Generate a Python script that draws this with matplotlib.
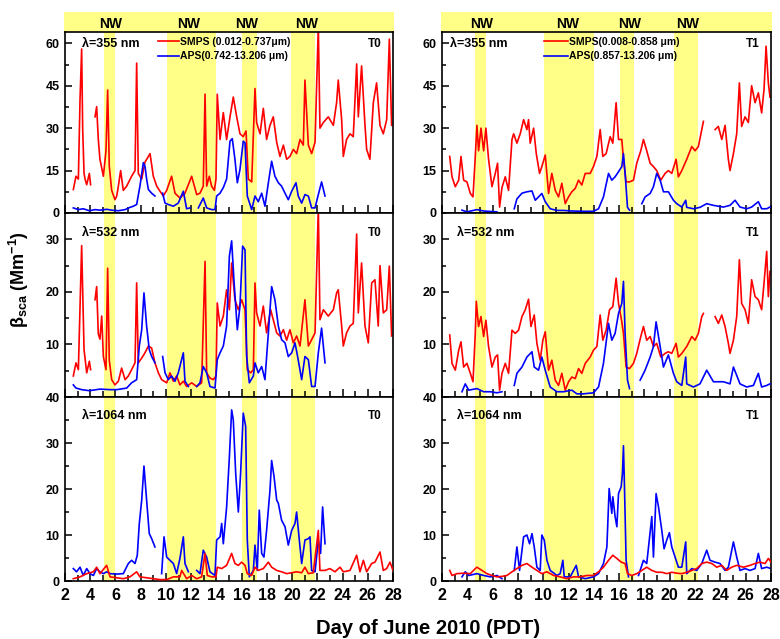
import numpy as np
import matplotlib
matplotlib.use('Agg')
import matplotlib.pyplot as plt
from matplotlib.ticker import MultipleLocator

plt.rcParams['font.family'] = ['Liberation Sans', 'DejaVu Sans']
plt.rcParams['font.weight'] = 'bold'
plt.rcParams['mathtext.fontset'] = 'custom'
plt.rcParams['mathtext.rm'] = 'Liberation Sans:bold'
plt.rcParams['mathtext.bf'] = 'Liberation Sans:bold'

nan = np.nan

####################################################################################################
# data: (day of June, beta_sca in Mm-1)
####################################################################################################
# --- T0 site ---
t0_smps_355 = [(2.66, 8.3), (2.87, 13), (3.06, 12), (3.19, 40), (3.32, 58), (3.40, 30), (3.51, 14), (3.59, 12),
               (3.72, 10), (3.93, 14), (4.03, 10), (4.2, nan), (4.38, 34), (4.51, 37.6), (4.64, 26), (4.77, 19),
               (5.04, 13), (5.25, 22), (5.38, 43.5), (5.51, 16.6), (5.70, 8), (5.96, 4.7), (6.10, 6), (6.23, 9.5),
               (6.41, 15), (6.62, 8), (6.89, 9.5), (7.28, 13), (7.55, 15), (7.68, 53), (7.81, 14), (8.08, 12),
               (8.34, 18), (8.61, 20), (8.74, 21), (9.00, 13), (9.27, 9.5), (9.53, 7.7), (9.79, 6), (10.06, 8),
               (10.45, 13), (10.72, 7), (11.11, 5.3), (11.51, 7), (12.04, 13), (12.44, 6.5), (12.70, 7),
               (12.96, 9.5), (13.10, 42), (13.23, 9.5), (13.44, 13), (13.62, 9.5), (13.84, 8), (13.97, 12),
               (14.07, 42), (14.29, 26), (14.55, 35.5), (14.81, 26), (15.08, 34), (15.34, 41), (15.61, 34),
               (15.87, 28), (16.13, 27), (16.35, 29), (16.53, 12), (16.80, 11), (17.06, 44), (17.19, 32),
               (17.46, 28), (17.72, 37), (17.98, 26), (18.25, 31), (18.51, 34), (18.78, 25), (19.04, 20),
               (19.31, 24), (19.57, 19), (19.83, 20), (20.10, 22.5), (20.36, 21), (20.63, 26), (20.89, 24),
               (21.02, 47), (21.29, 24), (21.55, 21), (21.82, 25), (22.08, 66), (22.21, 30), (22.48, 32),
               (22.87, 34), (23.27, 31), (23.53, 39), (23.66, 47), (23.93, 33), (24.06, 20), (24.32, 26),
               (24.59, 28), (24.85, 27), (25.12, 52.7), (25.25, 34), (25.51, 52), (25.78, 31), (25.91, 22.5),
               (26.17, 19), (26.44, 39), (26.70, 46), (26.97, 31), (27.23, 28), (27.50, 33), (27.71, 61.5),
               (27.89, 31)]
t0_aps_355 = [(2.66, 1.8), (3.06, 1.2), (3.45, 1.5), (3.93, 0.8), (4.38, 1.2), (4.77, 1.0), (5.30, 1.3),
              (5.70, 1.0), (6.23, 0.8), (6.76, 1.2), (7.15, 2.0), (7.42, 2.4), (7.68, 3), (7.94, 9.5),
              (8.21, 17.8), (8.34, 16.5), (8.47, 12), (8.61, 8.3), (8.87, 7), (9.13, 6), (9.27, nan), (9.74, 7),
              (9.93, 3.5), (10.19, 3), (10.59, 2.4), (10.98, 3.5), (11.38, 7.7), (11.64, 1.5), (11.91, 1.8),
              (12.1, nan), (12.57, 1.8), (12.96, 5.3), (13.23, 1.8), (13.62, 1.2), (13.89, 1.2), (14.02, 6),
              (14.29, 7), (14.55, 9), (14.81, 12), (15.08, 25.4), (15.26, 26.3), (15.47, 19), (15.66, 10.7),
              (15.87, 15.4), (16.13, 25.4), (16.27, 24.8), (16.45, 6), (16.80, 1.2), (17.06, 6), (17.32, 4),
              (17.59, 7), (17.85, 2.4), (18.12, 10.7), (18.38, 18.3), (18.64, 13), (18.91, 10.7), (19.17, 9.5),
              (19.44, 7), (19.70, 4.7), (19.97, 7.7), (20.31, 10.7), (20.49, 6), (20.76, 3.5), (21.02, 6.5),
              (21.29, 6), (21.55, 1.8), (21.82, 1.8), (22.08, 6.5), (22.34, 11), (22.61, 6)]
t0_smps_532 = [(2.66, 4), (2.87, 6.5), (3.06, 5.2), (3.32, 28.8), (3.51, 9), (3.72, 4.6), (3.93, 6.8), (4.03, 5.2),
               (4.2, nan), (4.38, 18.5), (4.51, 21), (4.64, 12), (4.77, 11), (4.91, 15.4), (5.04, 7.7), (5.25, 5.2),
               (5.38, 24.5), (5.51, 7), (5.70, 3.3), (5.96, 2.3), (6.23, 3), (6.49, 5.5), (6.76, 3.3), (7.02, 4),
               (7.28, 5.2), (7.55, 6.5), (7.68, 21.7), (7.81, 6.5), (8.08, 7.4), (8.34, 8.4), (8.61, 9.7),
               (8.87, 9.3), (9.13, 6.5), (9.40, 4.6), (9.66, 3.3), (10.06, 2.7), (10.32, 4.6), (10.59, 3),
               (10.85, 4), (11.11, 2.3), (11.38, 3), (11.64, 2), (12.04, 2.7), (12.44, 2), (12.83, 2.7),
               (13.10, 25.8), (13.23, 4.6), (13.49, 3.6), (13.76, 3.3), (13.97, 4), (14.07, 17.9), (14.29, 13.5),
               (14.55, 15.4), (14.81, 20.4), (15.03, 16.6), (15.21, 25.5), (15.47, 18.5), (15.74, 16.6),
               (16.00, 18.5), (16.27, 16.6), (16.45, 5.2), (16.72, 4.6), (16.93, 5.2), (17.06, 21.7), (17.19, 16),
               (17.46, 13.5), (17.72, 17.3), (17.98, 12.2), (18.30, 16.6), (18.51, 14.7), (18.78, 12.2),
               (19.04, 11.6), (19.31, 12.8), (19.57, 10.8), (19.83, 12.8), (20.10, 10.3), (20.36, 11.6),
               (20.63, 9.7), (21.02, 18.5), (21.29, 9.7), (21.55, 10.9), (21.82, 12.2), (22.08, 36), (22.21, 14.7),
               (22.48, 16.6), (22.87, 15.4), (23.27, 16.6), (23.53, 19.8), (23.66, 20.4), (23.93, 13.5),
               (24.06, 9.7), (24.32, 12.2), (24.59, 13.5), (24.85, 14), (25.12, 31), (25.25, 16), (25.51, 25.5),
               (25.78, 13.5), (26.04, 10.3), (26.31, 21.7), (26.57, 22.3), (26.83, 13.5), (26.97, 25), (27.23, 16),
               (27.50, 16.6), (27.71, 24.9), (27.89, 11.6)]
t0_aps_532 = [(2.66, 2.3), (2.87, 1.7), (3.32, 1.4), (3.93, 1.2), (4.77, 1.5), (5.57, 1.4), (6.10, 1.4), (6.89, 1.7),
              (7.28, 2.7), (7.68, 3.3), (7.89, 9.7), (8.08, 12.8), (8.26, 19.8), (8.47, 13.5), (8.68, 9),
              (8.87, 7.7), (9.13, 6.5), (9.27, nan), (9.74, 7.7), (9.93, 4.6), (10.19, 3.3), (10.45, 4), (10.72, 3),
              (10.98, 4.6), (11.38, 8.4), (11.51, 3), (11.78, 2), (12.1, nan), (12.44, 2), (12.70, 2.7),
              (12.96, 5.8), (13.23, 4.6), (13.49, 2), (13.89, 1.7), (14.07, 7.1), (14.29, 8.4), (14.55, 9.7),
              (14.81, 13.5), (15.03, 26.8), (15.21, 29.7), (15.39, 22.3), (15.66, 12.8), (15.87, 17.3),
              (16.08, 28.7), (16.27, 28), (16.40, 7.7), (16.61, 2.7), (16.93, 4), (17.06, 6.5), (17.32, 4.6),
              (17.59, 5.8), (17.85, 3.3), (18.12, 12.2), (18.38, 21), (18.64, 18.5), (18.91, 13.5), (19.17, 10.9),
              (19.44, 10.3), (19.70, 7.7), (19.97, 8.4), (20.23, 10.3), (20.44, 7.7), (20.76, 3.3), (21.02, 7.7),
              (21.29, 7.1), (21.55, 2), (21.82, 2), (22.08, 8.4), (22.34, 13.1), (22.61, 6.5)]
t0_smps_1064 = [(2.66, 0.5), (3.19, 0.9), (3.72, 1.6), (4.25, 2), (4.51, 3), (4.77, 1.6), (5.30, 3.4), (5.57, 0.9),
                (6.10, 0.7), (6.62, 0.5), (7.15, 0.9), (7.68, 2), (7.94, 0.9), (8.47, 0.7), (9.00, 0.5), (9.53, 0.3),
                (10.06, 0.3), (10.59, 0.9), (11.11, 0.9), (11.25, 2.3), (11.64, 0.5), (12.04, 1.2), (12.44, 0.5),
                (12.83, 0.9), (13.10, 6), (13.28, 1.2), (13.62, 0.9), (13.97, 0.9), (14.07, 3), (14.42, 2.7),
                (14.81, 3.4), (15.21, 6), (15.47, 3.8), (15.74, 3.4), (16.00, 4.1), (16.27, 3.4), (16.45, 1.6),
                (16.80, 1.2), (17.06, 3), (17.32, 2.3), (17.72, 2.7), (18.12, 4.1), (18.38, 3), (18.78, 2.3),
                (19.17, 2), (19.57, 1.6), (19.97, 1.8), (20.36, 2), (20.76, 1.8), (21.02, 3), (21.29, 1.6),
                (21.68, 1.8), (22.08, 11), (22.21, 2.3), (22.61, 2.3), (23.00, 2.7), (23.40, 2), (23.80, 3),
                (24.06, 2), (24.59, 2.3), (25.12, 5.6), (25.38, 2), (25.65, 4.5), (25.91, 2), (26.31, 3.8),
                (26.57, 4.1), (26.97, 6.3), (27.23, 2.3), (27.50, 2.7), (27.76, 4.1), (28.0, 2.3)]
t0_aps_1064 = [(2.66, 2.7), (2.92, 2), (3.19, 3), (3.45, 1.2), (3.72, 2.7), (3.98, 1.6), (4.25, 1.2), (4.51, 2.7),
               (4.77, 2), (5.04, 1.6), (5.30, 2), (5.57, 1.6), (6.10, 1.5), (6.62, 1.6), (7.02, 3.8), (7.28, 4.5),
               (7.55, 3.8), (7.73, 5.6), (7.89, 12.5), (8.08, 17.6), (8.26, 25), (8.47, 17.6), (8.68, 10.3),
               (8.87, 9.2), (9.13, 7.4), (9.3, nan), (9.66, 1.6), (9.85, 9.6), (10.06, 5.2), (10.32, 4.5),
               (10.59, 3.8), (10.85, 1.6), (11.11, 4.9), (11.38, 9.6), (11.51, 3.8), (11.78, 2), (12.1, nan),
               (12.44, 2.3), (12.70, 1.6), (12.96, 6.7), (13.23, 5.2), (13.49, 2), (13.89, 1.2), (14.02, 8.9),
               (14.29, 9.6), (14.42, 12.5), (14.55, 8.1), (14.81, 16), (15.03, 27), (15.21, 37.2), (15.34, 35),
               (15.53, 23.4), (15.74, 15), (15.92, 23.4), (16.13, 36.5), (16.32, 33.6), (16.45, 8.9), (16.61, 0.9),
               (16.93, 2.3), (17.06, 7.8), (17.24, 2.3), (17.40, 15.4), (17.59, 6), (17.77, 5.2), (17.98, 11),
               (18.25, 19.8), (18.38, 26.2), (18.57, 22.7), (18.78, 17.6), (18.91, 16.9), (19.17, 13.2),
               (19.44, 11.8), (19.70, 7.8), (19.97, 11), (20.23, 12.5), (20.36, 15), (20.55, 9.6), (20.76, 3.8),
               (21.02, 8.9), (21.29, 9.2), (21.42, 9.6), (21.55, 2.3), (21.82, 2), (22.08, 8.9), (22.26, 6),
               (22.42, 16.1), (22.61, 8.1)]

# --- T1 site ---
t1_smps_355 = [(2.61, 20), (2.79, 12.8), (3.05, 9.3), (3.32, 11.6), (3.50, 20), (3.71, 11.6), (3.97, 11), (4.24, 6.9),
               (4.45, 5.7), (4.63, 20), (4.76, 31), (4.89, 22), (5.08, 30), (5.29, 22), (5.47, 30), (5.68, 19),
               (5.95, 9.3), (6.21, 14), (6.39, 17.6), (6.55, 2.1), (6.74, 9), (7.00, 12.8), (7.26, 8), (7.53, 26),
               (7.66, 28), (7.92, 24.7), (8.18, 28), (8.45, 33), (8.71, 29.5), (8.84, 33), (8.97, 24.7), (9.24, 30),
               (9.45, 21), (9.71, 14), (9.89, 16.4), (10.16, 20.5), (10.42, 6.9), (10.68, 14), (10.95, 8),
               (11.21, 5.7), (11.47, 10.5), (11.74, 3.3), (12.00, 5.7), (12.26, 7.5), (12.53, 8.7), (12.79, 11.6),
               (13.05, 9.9), (13.32, 14), (13.71, 14), (13.97, 16.4), (14.24, 20), (14.50, 29.5), (14.71, 20),
               (14.97, 21), (15.29, 27), (15.50, 24.7), (15.76, 39), (15.95, 26), (16.21, 26), (16.34, 19),
               (16.55, 11), (16.82, 11), (17.13, 11.6), (17.39, 17.6), (17.71, 22), (17.92, 26), (18.18, 22),
               (18.45, 17.6), (18.71, 16.4), (18.97, 15), (19.29, 11.6), (19.63, 14), (19.89, 15), (20.16, 14),
               (20.50, 19), (20.68, 12.8), (20.95, 15), (21.34, 19), (21.74, 23.5), (22.00, 22), (22.26, 23.5),
               (22.53, 29.5), (22.66, 32.4), (23.0, nan), (23.58, 29.5), (23.84, 30.6), (24.11, 26), (24.37, 31),
               (24.63, 19), (24.76, 15), (25.03, 21), (25.29, 28), (25.50, 46), (25.68, 30.6), (25.95, 34),
               (26.21, 32), (26.47, 45), (26.74, 39), (27.00, 42.5), (27.26, 35.4), (27.45, 43.7), (27.61, 59),
               (27.79, 46), (27.92, 41)]
t1_aps_355 = [(3.58, 1), (3.97, 0.4), (4.76, 1.2), (5.29, 0.7), (6.34, 0.4), (6.6, nan), (7.71, 1.5), (7.92, 5),
              (8.32, 7), (8.71, 7.5), (9.11, 7.8), (9.37, 4.5), (9.89, 6.9), (10.16, 4), (10.55, 1.5), (11.08, 0.9),
              (11.61, 0.9), (12.26, 0.7), (13.18, 0.6), (13.97, 0.6), (14.37, 1.5), (14.76, 5.7), (15.16, 14),
              (15.42, 11.6), (15.68, 12.8), (15.95, 14.6), (16.21, 16.4), (16.34, 21), (16.47, 14), (16.66, 2),
              (16.82, 1), (17.0, nan), (17.79, 3.3), (18.05, 5.7), (18.45, 6.9), (18.71, 9.3), (18.97, 14),
              (19.24, 11.6), (19.50, 7.5), (19.89, 7.5), (20.29, 4.5), (20.55, 3.3), (20.95, 2.1), (21.26, 4.5),
              (21.34, 2), (21.87, 1.5), (22.39, 2), (22.92, 3.3), (23.45, 2.7), (24.24, 2.1), (24.76, 2.7),
              (25.16, 4.5), (25.55, 2.1), (26.08, 1.5), (26.47, 2.1), (27.00, 4), (27.26, 1.5), (27.66, 1.5),
              (27.92, 2.1)]
t1_smps_532 = [(2.61, 11.8), (2.79, 6.4), (3.05, 5.1), (3.32, 8.9), (3.50, 10.5), (3.71, 5.7), (3.97, 6.4), (4.24, 4.5),
               (4.45, 2.9), (4.63, 12.1), (4.71, 18.2), (4.89, 13.4), (5.08, 15.3), (5.29, 11.5), (5.47, 14.6),
               (5.68, 9.6), (5.95, 5.7), (6.21, 7.6), (6.39, 8), (6.55, 1.3), (6.74, 4.5), (7.00, 6.4), (7.26, 4.5),
               (7.53, 12.7), (7.79, 12.1), (8.05, 12.7), (8.32, 15.3), (8.58, 16.6), (8.84, 18.6), (9.03, 13.4),
               (9.29, 15.6), (9.50, 10.2), (9.76, 7), (9.97, 10.8), (10.16, 12.4), (10.42, 5.1), (10.68, 7),
               (10.95, 3.2), (11.21, 2.2), (11.47, 4.5), (11.74, 1.3), (12.00, 2.9), (12.26, 3.8), (12.53, 3.5),
               (12.79, 5.4), (13.05, 4.5), (13.32, 6.4), (13.71, 7.6), (13.97, 8.9), (14.24, 9.6), (14.50, 15.6),
               (14.71, 10.8), (14.97, 12.7), (15.24, 16.6), (15.50, 17.2), (15.76, 22.6), (15.95, 17.8),
               (16.21, 14.3), (16.34, 12.1), (16.55, 5.7), (16.82, 5.4), (17.13, 6.4), (17.39, 8.3), (17.71, 11.5),
               (17.92, 13.4), (18.18, 10.8), (18.45, 11.5), (18.71, 9.6), (18.97, 10.2), (19.29, 7.6), (19.63, 8.3),
               (19.89, 8.6), (20.16, 8.3), (20.50, 10.2), (20.68, 7.6), (20.95, 8.3), (21.34, 9.6), (21.74, 11.5),
               (22.00, 10.8), (22.26, 12.1), (22.53, 15.3), (22.66, 15.9), (23.0, nan), (23.58, 15.3), (23.84, 14),
               (24.11, 15.6), (24.37, 13.4), (24.63, 10.2), (24.76, 8.3), (25.03, 10.8), (25.29, 15.3),
               (25.50, 26.1), (25.68, 17.8), (25.95, 16.6), (26.21, 14), (26.47, 22.3), (26.74, 19.1), (27.00, 18.5),
               (27.26, 16.6), (27.45, 21.7), (27.66, 27.7), (27.79, 19.1), (27.92, 23.9)]
t1_aps_532 = [(3.58, 1), (3.84, 2.5), (4.11, 1.3), (4.76, 1.6), (5.29, 1), (5.82, 1), (6.34, 0.8), (6.74, 1), (6.9, nan),
              (7.71, 2.2), (7.92, 4.5), (8.32, 5.7), (8.71, 7.6), (9.11, 8.6), (9.29, 5.7), (9.63, 5.1), (9.89, 7.6),
              (10.16, 5.1), (10.55, 1.9), (11.08, 1), (11.61, 1), (12.26, 1.3), (12.66, 0.6), (13.18, 0.6),
              (13.97, 0.8), (14.37, 1.9), (14.76, 6.4), (15.16, 14), (15.42, 10.8), (15.68, 12.1), (15.95, 15.9),
              (16.21, 17.8), (16.34, 22), (16.47, 12.1), (16.66, 3.2), (16.82, 1.6), (17.0, nan), (17.66, 3.2),
              (18.05, 5.1), (18.45, 7.6), (18.71, 9.6), (18.92, 14.3), (19.24, 9.6), (19.50, 5.7), (19.89, 8),
              (20.29, 4.5), (20.55, 2.9), (20.95, 2.2), (21.26, 7.6), (21.34, 2.5), (21.87, 1.9), (22.39, 2.5),
              (22.92, 5.1), (23.45, 2.9), (24.24, 2.9), (24.76, 2.5), (25.03, 5.7), (25.55, 2.5), (26.08, 1.9),
              (26.61, 2.2), (27.00, 4.5), (27.26, 1.9), (27.66, 2.2), (27.92, 2.5)]
t1_smps_1064 = [(2.61, 2.3), (2.79, 1.2), (3.18, 1.6), (3.71, 1.7), (4.24, 1.6), (4.63, 2.7), (4.76, 3), (5.16, 2.3),
                (5.55, 1.6), (5.95, 1.2), (6.34, 0.9), (6.74, 1.0), (7.13, 1.2), (7.53, 2), (7.92, 2.7), (8.32, 3.4),
                (8.71, 3.8), (9.11, 3), (9.50, 2.3), (9.89, 1.6), (10.29, 2), (10.82, 1.2), (11.34, 0.9),
                (11.87, 0.5), (12.39, 0.9), (12.92, 0.9), (13.45, 1.2), (13.97, 1.2), (14.37, 2), (14.76, 3),
                (15.16, 4.5), (15.50, 5.6), (15.82, 4.9), (16.16, 4.1), (16.47, 3.8), (16.66, 1.6), (17.00, 1.2),
                (17.39, 1.6), (17.79, 2.3), (18.18, 3), (18.58, 2.3), (18.97, 1.9), (19.37, 1.9), (19.76, 1.6),
                (20.16, 1.9), (20.55, 1.7), (20.95, 1.6), (21.34, 1.9), (21.74, 2.3), (22.13, 2.7), (22.53, 3.8),
                (22.92, 4.1), (23.32, 3.8), (23.71, 3), (24.11, 3.4), (24.50, 2.3), (24.89, 3), (25.29, 3.4),
                (25.82, 3), (26.34, 3.4), (26.74, 3.8), (27.13, 4.1), (27.53, 3.8), (27.79, 4.9), (28.00, 4.1)]
t1_aps_1064 = [(3.58, 0.9), (3.84, 2), (4.11, 1.2), (4.76, 1.6), (5.29, 1.2), (5.82, 0.9), (6.34, 1.2), (6.74, 0.5),
               (6.9, nan), (7.71, 2.3), (7.92, 7.4), (8.13, 2.3), (8.45, 9.6), (8.71, 10), (8.92, 8.1), (9.11, 10.3),
               (9.29, 7.4), (9.50, 3), (9.76, 2.3), (9.89, 10), (10.08, 8.9), (10.29, 4.5), (10.55, 2.3), (11.08, 1.2),
               (11.34, 1.6), (11.55, 4.5), (11.66, 0.9), (12.13, 0.9), (12.61, 3.4), (12.79, 0.9), (13.32, 0.5),
               (13.97, 0.9), (14.37, 1.6), (14.76, 3.8), (15.03, 7.4), (15.21, 20.1), (15.42, 14.7), (15.50, 18.3),
               (15.68, 14), (15.82, 11.8), (15.95, 19), (16.16, 20.5), (16.26, 23.4), (16.34, 29.4), (16.42, 20.5),
               (16.55, 4.5), (16.74, 0.9), (17.0, nan), (17.53, 1.2), (17.92, 4.5), (18.18, 3.8), (18.58, 14),
               (18.71, 5.2), (18.92, 19), (19.11, 16.1), (19.37, 11), (19.55, 7), (19.76, 8.9), (19.97, 10.5),
               (20.16, 7.4), (20.42, 5.2), (20.68, 3), (20.95, 3), (21.26, 8.5), (21.34, 1.6), (21.74, 2.7),
               (22.13, 2.3), (22.53, 3.8), (22.92, 6.7), (23.18, 4.5), (23.58, 4.1), (23.97, 3.8), (24.37, 2.3),
               (24.63, 3), (25.03, 8.5), (25.29, 5.2), (25.55, 2.3), (25.95, 2.7), (26.34, 2.3), (26.74, 2.7),
               (27.00, 6), (27.26, 2.7), (27.66, 3), (28.00, 2.7)]

# northwest wind periods (start, end day) and where the "NW" labels sit
nw_t0 = [(5.1, 6.0), (10.1, 14.0), (16.05, 17.2), (19.9, 21.85)]
nw_t1 = [(4.63, 5.5), (10.1, 14.0), (16.04, 17.18), (20.3, 22.2)]
nw_label_t0 = [5.7, 11.83, 16.4, 21.15]
nw_label_t1 = [5.18, 11.92, 16.79, 21.34]

wavelengths = ['355', '532', '1064']
ylims = [64, 35, 40]
ymajor = [15, 10, 10]
legend_t0 = ['SMPS (0.012-0.737\u03bcm)', 'APS(0.742-13.206 \u03bcm)']
legend_t1 = ['SMPS(0.008-0.858 \u03bcm)', 'APS(0.857-13.206 \u03bcm)']

####################################################################################################
# plot
####################################################################################################
yellow = '#ffff88'
fig = plt.figure(figsize=(7.8, 6.39), dpi=100)

col_x = [65 / 780, 442 / 780]
col_w = [328 / 780, 329 / 780]
row_y = [1 - 213 / 639, 1 - 397 / 639, 1 - 581 / 639]
row_h = [181 / 639, 184 / 639, 184 / 639]

sites = [
    ('T0', [t0_smps_355, t0_smps_532, t0_smps_1064], [t0_aps_355, t0_aps_532, t0_aps_1064], nw_t0, nw_label_t0, legend_t0),
    ('T1', [t1_smps_355, t1_smps_532, t1_smps_1064], [t1_aps_355, t1_aps_532, t1_aps_1064], nw_t1, nw_label_t1, legend_t1),
]

for c, (site, smps, aps, nw, nw_lab, leg) in enumerate(sites):
    # yellow strip with NW labels above the column
    strip = fig.add_axes([col_x[c] - 1 / 780, 1 - 32 / 639, col_w[c] + 2 / 780, 20 / 639])
    strip.set_facecolor(yellow)
    strip.set_xlim(2, 28)
    strip.set_ylim(0, 1)
    for s in strip.spines.values():
        s.set_visible(False)
    strip.set_xticks([])
    strip.set_yticks([])
    for xl in nw_lab:
        strip.text(xl, 0.4, 'NW', ha='center', va='center', fontsize=10, fontweight='bold')

    for r in range(3):
        ax = fig.add_axes([col_x[c], row_y[r], col_w[c], row_h[r]])
        for a, b in nw:
            ax.axvspan(a, b, color=yellow, lw=0, zorder=0)
        xs, ys = zip(*smps[r])
        ax.plot(xs, ys, color='#ff0000', lw=1.2, label=leg[0], zorder=2 if r < 2 else 3)
        xs, ys = zip(*aps[r])
        ax.plot(xs, ys, color='#0000ff', lw=1.2, label=leg[1], zorder=3 if r < 2 else 2)

        ax.set_xlim(2, 28)
        ax.set_ylim(0, ylims[r])
        ax.xaxis.set_major_locator(MultipleLocator(2))
        ax.xaxis.set_minor_locator(MultipleLocator(1))
        ax.yaxis.set_major_locator(MultipleLocator(ymajor[r]))
        ax.yaxis.set_minor_locator(MultipleLocator(ymajor[r] / 2))
        ax.tick_params(which='both', direction='in', width=1.1, top=False, right=False)
        ax.tick_params(which='major', length=5)
        ax.tick_params(which='minor', length=3)
        ax.tick_params(axis='x', which='major', length=6)
        ax.tick_params(axis='x', which='minor', length=4)
        ax.tick_params(axis='y', labelsize=9, pad=4)
        ax.tick_params(axis='x', labelsize=11.5, pad=5)
        for lab in ax.get_yticklabels() + ax.get_xticklabels():
            lab.set_fontweight('bold')
        for s in ax.spines.values():
            s.set_linewidth(1.2)
        if r < 2:
            ax.set_xticklabels([])
        if r == 1:
            ax.set_yticks([10, 20, 30])

        lx = 0.052 if c == 0 else (0.024 if r == 0 else 0.045)
        ly = [0.934, 0.89, 0.897][r]
        ax.text(lx, ly, '\u03bb=' + wavelengths[r] + ' nm', transform=ax.transAxes,
                ha='left', va='center', fontsize=9, fontweight='bold')
        ax.text(0.965, ly, site, transform=ax.transAxes, ha='right', va='center',
                fontsize=8.5, fontweight='bold')

        if r == 0:
            ax.legend(loc='upper left', bbox_to_anchor=(0.285 if c == 0 else 0.31, 0.975), frameon=False,
                      handlelength=2.0 if c == 0 else 2.3, handletextpad=0.1, borderpad=0, borderaxespad=0,
                      labelspacing=0.45, prop={'weight': 'bold', 'size': 7.5})

fig.text(0.549, 0.017, 'Day of June 2010 (PDT)', ha='center', va='center', fontsize=14.5, fontweight='bold')
fig.text(0.024, 0.562, r'$\mathbf{\beta_{sca}}$ (Mm$^{\mathbf{-1}}$)', rotation=90, ha='center', va='center',
         fontsize=13, fontweight='bold')

fig.savefig('out.png', dpi=100)
plt.close()
